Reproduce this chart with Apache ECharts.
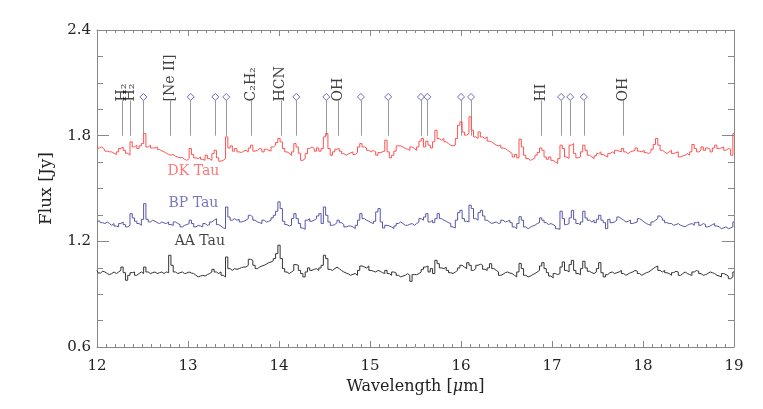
<!DOCTYPE html>
<html>
<head>
<meta charset="utf-8">
<script src="https://cdn.jsdelivr.net/npm/echarts@6/dist/echarts.min.js"></script>
<style>
  html, body { margin: 0; padding: 0; background: #fff; }
  #chart { width: 763px; height: 409px; }
</style>
</head>
<body>
<div id="chart"></div>
<script>
// wavelength grid of the spectra (micron)
const wlStart = 12.0;
const wlStep = 0.025;

// fluxes in Jy, every 0.025 micron from 12.000 to 19.000
const dkTau = [
  1.727, 1.730, 1.736, 1.727, 1.712, 1.708, 1.708, 1.700, 1.693, 1.708,
  1.727, 1.736, 1.717, 1.700, 1.689, 1.765, 1.736, 1.746, 1.727, 1.742,
  1.755, 1.812, 1.736, 1.746, 1.730, 1.730, 1.736, 1.721, 1.714, 1.708,
  1.700, 1.693, 1.689, 1.693, 1.683, 1.679, 1.674, 1.676, 1.666, 1.660,
  1.670, 1.727, 1.693, 1.674, 1.670, 1.679, 1.666, 1.660, 1.689, 1.670,
  1.660, 1.698, 1.717, 1.674, 1.655, 1.660, 1.670, 1.793, 1.730, 1.742,
  1.712, 1.727, 1.708, 1.704, 1.712, 1.717, 1.708, 1.730, 1.746, 1.712,
  1.717, 1.727, 1.723, 1.708, 1.723, 1.717, 1.712, 1.736, 1.746, 1.761,
  1.784, 1.765, 1.727, 1.708, 1.700, 1.689, 1.708, 1.755, 1.736, 1.700,
  1.660, 1.670, 1.698, 1.727, 1.736, 1.727, 1.712, 1.730, 1.712, 1.727,
  1.793, 1.812, 1.727, 1.689, 1.708, 1.723, 1.727, 1.712, 1.698, 1.689,
  1.697, 1.702, 1.708, 1.693, 1.704, 1.736, 1.755, 1.736, 1.730, 1.717,
  1.708, 1.717, 1.708, 1.689, 1.704, 1.708, 1.712, 1.774, 1.708, 1.674,
  1.689, 1.712, 1.742, 1.742, 1.736, 1.727, 1.723, 1.717, 1.736, 1.727,
  1.717, 1.736, 1.769, 1.784, 1.736, 1.769, 1.746, 1.730, 1.765, 1.831,
  1.784, 1.774, 1.784, 1.765, 1.755, 1.746, 1.742, 1.746, 1.784, 1.859,
  1.878, 1.821, 1.803, 1.812, 1.907, 1.831, 1.793, 1.784, 1.821, 1.793,
  1.784, 1.793, 1.769, 1.765, 1.755, 1.746, 1.742, 1.746, 1.730, 1.727,
  1.717, 1.708, 1.698, 1.679, 1.693, 1.674, 1.780, 1.736, 1.689, 1.670,
  1.660, 1.666, 1.674, 1.689, 1.704, 1.730, 1.717, 1.679, 1.666, 1.679,
  1.660, 1.651, 1.642, 1.670, 1.746, 1.727, 1.679, 1.670, 1.746, 1.755,
  1.698, 1.674, 1.679, 1.708, 1.746, 1.717, 1.689, 1.679, 1.670, 1.685,
  1.698, 1.708, 1.693, 1.685, 1.679, 1.698, 1.708, 1.698, 1.717, 1.712,
  1.708, 1.727, 1.708, 1.698, 1.708, 1.712, 1.717, 1.730, 1.712, 1.708,
  1.717, 1.704, 1.698, 1.708, 1.723, 1.750, 1.784, 1.746, 1.717, 1.708,
  1.698, 1.708, 1.717, 1.698, 1.704, 1.708, 1.679, 1.685, 1.689, 1.698,
  1.689, 1.708, 1.750, 1.727, 1.708, 1.717, 1.736, 1.717, 1.730, 1.723,
  1.708, 1.730, 1.746, 1.727, 1.730, 1.736, 1.717, 1.727, 1.723, 1.689,
  1.812
];
const bpTau = [
  1.310, 1.318, 1.306, 1.301, 1.310, 1.301, 1.291, 1.301, 1.287, 1.282,
  1.301, 1.310, 1.295, 1.282, 1.291, 1.357, 1.333, 1.314, 1.301, 1.291,
  1.325, 1.414, 1.325, 1.310, 1.320, 1.314, 1.306, 1.301, 1.310, 1.304,
  1.301, 1.310, 1.295, 1.291, 1.310, 1.301, 1.295, 1.282, 1.291, 1.295,
  1.301, 1.320, 1.301, 1.282, 1.291, 1.287, 1.282, 1.301, 1.291, 1.295,
  1.310, 1.320, 1.329, 1.295, 1.287, 1.276, 1.272, 1.395, 1.338, 1.320,
  1.329, 1.320, 1.325, 1.310, 1.314, 1.320, 1.329, 1.348, 1.338, 1.320,
  1.310, 1.306, 1.301, 1.320, 1.310, 1.314, 1.320, 1.333, 1.348, 1.371,
  1.424, 1.386, 1.314, 1.295, 1.287, 1.291, 1.329, 1.357, 1.329, 1.301,
  1.276, 1.268, 1.320, 1.329, 1.314, 1.320, 1.329, 1.344, 1.357, 1.301,
  1.395, 1.348, 1.310, 1.291, 1.295, 1.306, 1.320, 1.306, 1.295, 1.282,
  1.287, 1.287, 1.282, 1.272, 1.291, 1.320, 1.357, 1.329, 1.320, 1.314,
  1.306, 1.301, 1.314, 1.367, 1.386, 1.310, 1.276, 1.291, 1.287, 1.282,
  1.272, 1.287, 1.301, 1.310, 1.301, 1.291, 1.291, 1.297, 1.301, 1.291,
  1.301, 1.310, 1.329, 1.320, 1.338, 1.357, 1.310, 1.320, 1.306, 1.329,
  1.357, 1.329, 1.320, 1.314, 1.306, 1.301, 1.282, 1.276, 1.320, 1.363,
  1.376, 1.329, 1.314, 1.310, 1.405, 1.386, 1.329, 1.320, 1.363, 1.376,
  1.344, 1.320, 1.310, 1.301, 1.306, 1.310, 1.301, 1.306, 1.320, 1.310,
  1.314, 1.320, 1.306, 1.282, 1.272, 1.301, 1.340, 1.320, 1.282, 1.272,
  1.280, 1.287, 1.291, 1.301, 1.306, 1.333, 1.320, 1.306, 1.295, 1.301,
  1.295, 1.287, 1.272, 1.268, 1.371, 1.329, 1.295, 1.301, 1.333, 1.376,
  1.325, 1.301, 1.295, 1.310, 1.371, 1.333, 1.320, 1.310, 1.320, 1.306,
  1.325, 1.348, 1.320, 1.306, 1.272, 1.325, 1.306, 1.310, 1.320, 1.338,
  1.329, 1.320, 1.310, 1.314, 1.320, 1.301, 1.306, 1.310, 1.329, 1.320,
  1.310, 1.301, 1.295, 1.291, 1.310, 1.320, 1.329, 1.344, 1.333, 1.320,
  1.306, 1.301, 1.301, 1.291, 1.295, 1.301, 1.291, 1.287, 1.282, 1.291,
  1.297, 1.301, 1.291, 1.306, 1.310, 1.291, 1.301, 1.295, 1.282, 1.287,
  1.295, 1.301, 1.287, 1.282, 1.272, 1.276, 1.282, 1.272, 1.276, 1.282,
  1.310
];
const aaTau = [
  1.035, 1.020, 1.030, 1.026, 1.017, 1.011, 1.017, 1.026, 1.017, 1.026,
  1.035, 1.054, 1.022, 0.979, 1.007, 1.022, 1.026, 1.007, 1.017, 1.026,
  1.017, 1.054, 1.026, 1.017, 1.022, 1.026, 1.017, 1.022, 1.026, 1.017,
  1.026, 1.022, 1.121, 1.064, 1.026, 1.017, 1.022, 1.026, 1.017, 1.020,
  1.026, 1.020, 1.017, 1.007, 0.998, 1.003, 1.007, 1.003, 1.011, 1.017,
  1.026, 1.041, 1.026, 1.017, 1.026, 1.007, 0.998, 1.111, 1.045, 1.035,
  1.045, 1.041, 1.045, 1.051, 1.054, 1.054, 1.064, 1.098, 1.092, 1.064,
  1.045, 1.054, 1.060, 1.064, 1.071, 1.079, 1.083, 1.090, 1.102, 1.130,
  1.178, 1.102, 1.045, 1.026, 1.017, 1.026, 1.035, 1.068, 1.064, 1.035,
  1.017, 0.998, 1.026, 1.049, 1.035, 1.041, 1.045, 1.035, 1.049, 1.064,
  1.121, 1.102, 1.041, 1.035, 1.045, 1.053, 1.045, 1.034, 1.026, 1.020,
  1.015, 1.007, 1.013, 1.017, 1.007, 1.035, 1.060, 1.054, 1.049, 1.060,
  1.035, 1.030, 1.026, 1.035, 1.030, 1.022, 1.017, 1.035, 1.017, 1.007,
  1.026, 1.020, 1.007, 0.998, 1.003, 1.007, 1.017, 1.007, 0.973, 1.011,
  1.011, 1.017, 1.026, 1.041, 1.054, 1.060, 1.026, 1.045, 1.017, 1.092,
  1.073, 1.049, 1.045, 1.053, 1.035, 1.022, 1.017, 1.026, 1.035, 1.049,
  1.064, 1.054, 1.045, 1.079, 1.064, 1.035, 1.045, 1.064, 1.070, 1.064,
  1.041, 1.035, 1.049, 1.073, 1.045, 1.035, 1.026, 1.007, 1.013, 1.022,
  1.026, 1.020, 1.017, 1.007, 0.998, 1.026, 1.075, 1.045, 1.007, 0.998,
  1.003, 1.011, 1.017, 1.026, 1.035, 1.060, 1.079, 1.045, 1.022, 1.003,
  0.992, 1.017, 1.011, 1.017, 1.054, 1.083, 1.035, 1.026, 1.068, 1.092,
  1.035, 1.017, 1.011, 1.045, 1.087, 1.049, 1.030, 1.022, 1.017, 1.026,
  1.045, 1.079, 1.022, 0.998, 1.011, 1.022, 1.026, 1.017, 1.022, 1.026,
  1.035, 1.017, 1.007, 1.015, 1.022, 1.026, 1.035, 1.030, 1.017, 1.007,
  1.015, 1.022, 1.026, 1.035, 1.045, 1.054, 1.060, 1.035, 1.026, 1.035,
  1.022, 1.017, 1.007, 1.022, 1.030, 1.026, 1.007, 1.017, 1.026, 1.017,
  1.011, 1.007, 1.026, 1.034, 1.030, 1.017, 1.007, 1.011, 1.017, 1.026,
  1.022, 1.017, 1.007, 1.003, 0.998, 1.017, 1.011, 1.003, 0.988, 0.998,
  1.026
];

// identified lines with a name written above them
const namedLines = ["H₂", "H₂", "[Ne II]", "C₂H₂", "HCN", "OH", "HI", "OH"];
const namedLineWl = [12.28, 12.37, 12.81, 13.70, 14.02, 14.65, 16.88, 17.78];
// lines flagged only with a diamond
const diamondLineWl = [12.51, 13.03, 13.30, 13.42, 14.19, 14.52, 14.90, 15.20, 15.56, 15.63, 16.00, 16.11, 17.10, 17.20, 17.35];
const lineBottom = 1.8;
const lineTop = 2.0;
const diamondLevel = 2.02;

// star names written under each spectrum
const starNames = ["DK Tau", "BP Tau", "AA Tau"];
const starNameWl = [13.06, 13.06, 13.13];
const starNameFlux = [1.598, 1.416, 1.198];

const font = "DejaVu Serif";
const colors = { dk: "#ff5252", bp: "#5656aa", aa: "#333333", grid: "#888888", line: "#9a9a9a", diamond: "#4848a8" };

function pairs(values) {
  return values.map((v, i) => [+(wlStart + i * wlStep).toFixed(3), v]);
}

const chart = echarts.init(document.getElementById("chart"), null, { renderer: "canvas" });

const axisCommon = {
  axisLine: { lineStyle: { color: colors.grid, width: 1 } },
  splitLine: { show: false },
};

function spectrum(name, values, color) {
  return {
    name: name, type: "line", step: "middle", data: pairs(values),
    showSymbol: false, lineStyle: { color: color, width: 1 },
  };
}

const option = {
  animation: false,
  backgroundColor: "#fff",
  grid: { left: 97, right: 29, top: 30, bottom: 62 },
  xAxis: [
    {
      ...axisCommon,
      type: "value", min: 12, max: 19, interval: 1, position: "bottom",
      name: "Wavelength [{i|μ}m]", nameLocation: "middle", nameGap: 31,
      nameTextStyle: { fontFamily: font, fontSize: 16, color: "#222", rich: { i: { fontFamily: font, fontStyle: "italic", fontSize: 16, color: "#222" } } },
      axisTick: { inside: true, length: 6, lineStyle: { color: colors.grid } },
      minorTick: { show: true, splitNumber: 10, length: 3, lineStyle: { color: colors.grid } },
      axisLabel: { fontFamily: font, fontSize: 15, color: "#222", margin: 12 },
    },
    {
      ...axisCommon,
      type: "value", min: 12, max: 19, interval: 1, position: "top",
      axisTick: { inside: true, length: 6, lineStyle: { color: colors.grid } },
      minorTick: { show: true, splitNumber: 10, length: 3, lineStyle: { color: colors.grid } },
      axisLabel: { show: false },
    },
  ],
  yAxis: [
    {
      ...axisCommon,
      type: "value", min: 0.6, max: 2.4, interval: 0.6, position: "left",
      name: "Flux [Jy]", nameLocation: "middle", nameGap: 42,
      nameTextStyle: { fontFamily: font, fontSize: 17, color: "#222" },
      axisTick: { inside: true, length: 12, lineStyle: { color: colors.grid } },
      minorTick: { show: true, splitNumber: 4, length: 6, lineStyle: { color: colors.grid } },
      axisLabel: { fontFamily: font, fontSize: 15, color: "#222", margin: 6, formatter: (v) => v.toFixed(1) },
    },
    {
      ...axisCommon,
      type: "value", min: 0.6, max: 2.4, interval: 0.6, position: "right",
      axisTick: { inside: true, length: 12, lineStyle: { color: colors.grid } },
      minorTick: { show: true, splitNumber: 4, length: 6, lineStyle: { color: colors.grid } },
      axisLabel: { show: false },
    },
  ],
  series: [
    spectrum("DK Tau", dkTau, colors.dk),
    spectrum("BP Tau", bpTau, colors.bp),
    spectrum("AA Tau", aaTau, colors.aa),
    {
      // vertical line markers
      type: "lines", coordinateSystem: "cartesian2d", polyline: false,
      lineStyle: { color: colors.line, width: 1, opacity: 1 },
      data: namedLineWl.concat(diamondLineWl).map((wl) => ({ coords: [[wl, lineBottom], [wl, lineTop]] })),
    },
    {
      type: "scatter", symbol: "diamond", symbolSize: 7,
      itemStyle: { color: "#fff", borderColor: colors.diamond, borderWidth: 1 },
      data: diamondLineWl.map((wl) => [wl, diamondLevel]),
    },
    {
      type: "scatter", symbolSize: 0,
      data: namedLineWl.map((wl, i) => ({ value: [wl, lineTop], name: namedLines[i] })),
      label: {
        show: true, position: [0, 1], rotate: 90, align: "left", verticalAlign: "middle",
        formatter: (p) => p.name, fontFamily: font, fontSize: 14, color: "#111",
      },
    },
    {
      type: "scatter", symbolSize: 0,
      data: starNames.map((n, i) => ({
        value: [starNameWl[i], starNameFlux[i]], name: n,
        label: { color: [colors.dk, colors.bp, "#111"][i] },
      })),
      label: {
        show: true, position: [0, 0], align: "center", verticalAlign: "middle",
        formatter: (p) => p.name, fontFamily: font, fontSize: 14,
      },
    },
  ],
};

chart.setOption(option);
</script>
</body>
</html>
